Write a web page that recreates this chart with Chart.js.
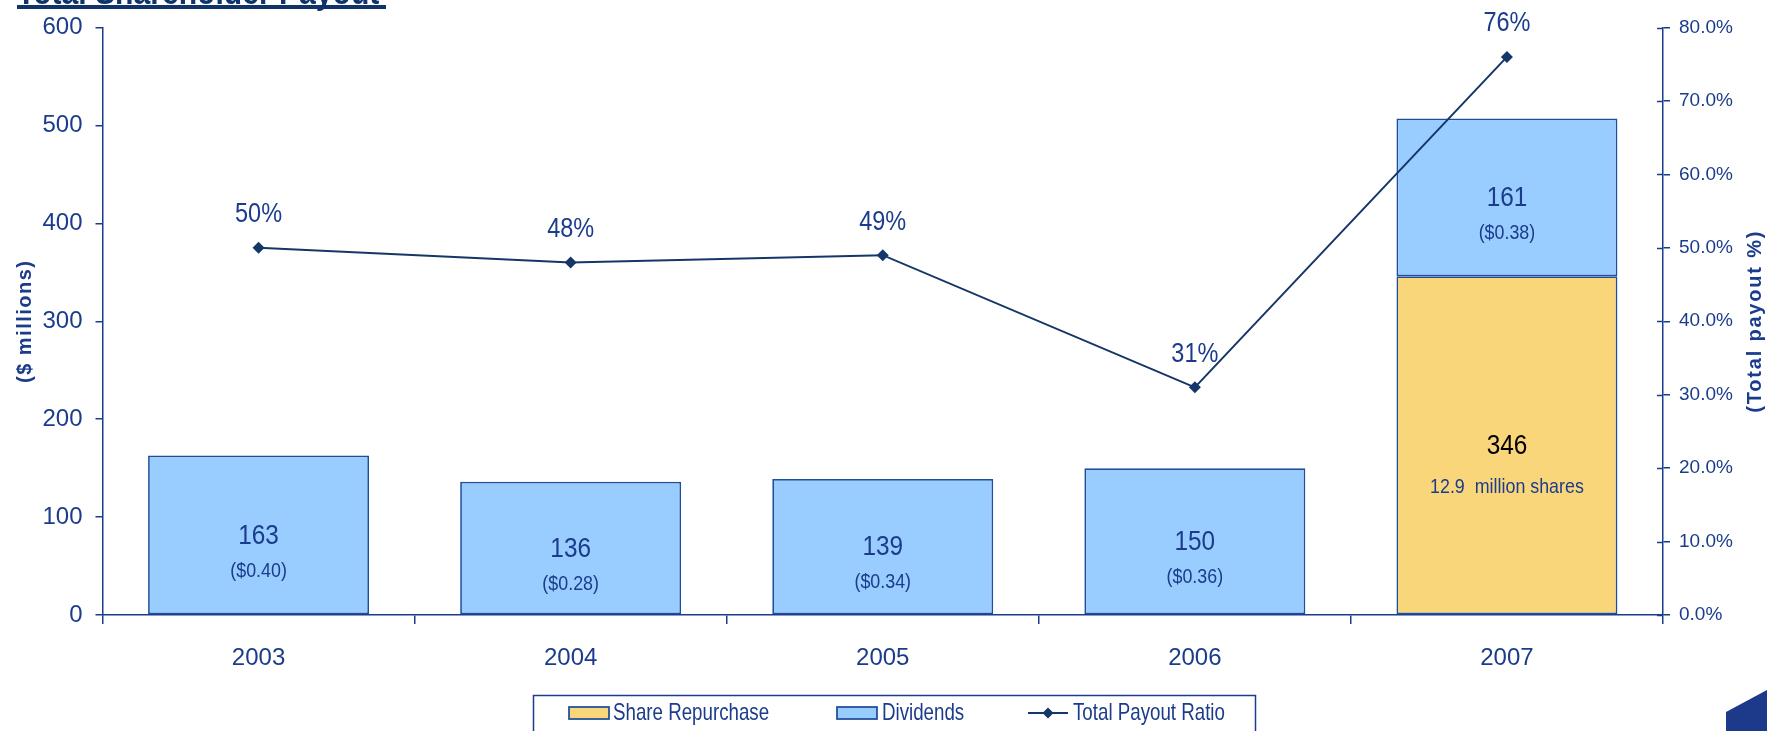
<!DOCTYPE html>
<html>
<head>
<meta charset="utf-8">
<title>Total Shareholder Payout</title>
<script src="https://cdn.jsdelivr.net/npm/chart.js@4.4.1/dist/chart.umd.min.js"></script>
<style>
  html, body { margin: 0; padding: 0; background: #ffffff; overflow: hidden; }
  #wrap { position: relative; width: 1767px; height: 731px; }
  canvas { display: block; }
</style>
</head>
<body>
<div id="wrap"><canvas id="c" width="1767" height="731"></canvas></div>
<script>
// ---- data ----
const years = ['2003', '2004', '2005', '2006', '2007'];
const repurchase = [null, null, null, null, 346];      // $ millions
const dividends = [163, 136, 139, 150, 161];           // $ millions
const payoutRatio = [50, 48, 49, 31, 76];              // % of earnings
const dividendPerShare = ['($0.40)', '($0.28)', '($0.34)', '($0.36)', '($0.38)'];
const repurchaseNote = [null, null, null, null, '12.9  million shares'];
const leftTicks = [0, 100, 200, 300, 400, 500, 600];
const rightTicks = [0, 10, 20, 30, 40, 50, 60, 70, 80];

// ---- styling ----
const NAVY = '#1b3c8c';
const LINE = '#143668';
const EDGE = '#1f4e9c';
const BLUE = '#99ccff';
const GOLD = '#fad67a';
const FONT = '"Liberation Sans", Arial, sans-serif';

// text drawn with a slight horizontal condensing
function squeezedText(ctx, text, x, y, size, color, opts = {}) {
  ctx.save();
  ctx.font = (opts.bold ? 'bold ' : '') + size + 'px ' + FONT;
  ctx.fillStyle = color;
  ctx.textAlign = opts.align || 'center';
  ctx.textBaseline = opts.baseline || 'middle';
  if (opts.spacing) ctx.letterSpacing = opts.spacing + 'px';
  ctx.translate(x, y);
  if (opts.rotate) ctx.rotate(opts.rotate);
  ctx.scale(opts.sx || 1, 1);
  ctx.fillText(text, 0, 0);
  ctx.restore();
}

const decorations = {
  id: 'decorations',
  afterDatasetsDraw(chart) {
    const ctx = chart.ctx;
    const repMeta = chart.getDatasetMeta(0);
    const divMeta = chart.getDatasetMeta(1);
    const lineMeta = chart.getDatasetMeta(2);

    // values inside the bars
    divMeta.data.forEach((bar, i) => {
      if (dividends[i] == null) return;
      const cy = (bar.y + bar.base) / 2;
      squeezedText(ctx, String(dividends[i]), bar.x, cy + 1, 28, NAVY, { sx: 0.87 });
      squeezedText(ctx, dividendPerShare[i], bar.x, cy + 36, 21, NAVY, { sx: 0.85 });
    });
    repMeta.data.forEach((bar, i) => {
      if (repurchase[i] == null) return;
      const cy = (bar.y + bar.base) / 2;
      squeezedText(ctx, String(repurchase[i]), bar.x, cy + 1, 28, '#000000', { sx: 0.87 });
      if (repurchaseNote[i]) squeezedText(ctx, repurchaseNote[i], bar.x, cy + 42, 21, NAVY, { sx: 0.85 });
    });

    // payout ratio labels above the points
    lineMeta.data.forEach((pt, i) => {
      squeezedText(ctx, payoutRatio[i] + '%', pt.x, pt.y - 33, 27, NAVY, { sx: 0.87 });
    });

    // inner half of the right axis ticks
    const y1 = chart.scales.y1;
    ctx.save();
    ctx.strokeStyle = NAVY;
    ctx.lineWidth = 1.5;
    y1.ticks.forEach(t => {
      const py = Math.round(y1.getPixelForValue(t.value)) + 0.5;
      ctx.beginPath();
      ctx.moveTo(y1.left - 6, py);
      ctx.lineTo(y1.left, py);
      ctx.stroke();
    });
    ctx.restore();
  },
  afterDraw(chart) {
    const ctx = chart.ctx;
    const area = chart.chartArea;

    // heading, cut by the top edge
    squeezedText(ctx, 'Total Shareholder Payout', 17, 3.5, 35, '#10336a', { bold: true, align: 'left', baseline: 'alphabetic', sx: 0.86 });
    ctx.fillStyle = '#10336a';
    ctx.fillRect(17, 5, 369, 4);

    // axis titles
    const midY = (area.top + area.bottom) / 2;
    squeezedText(ctx, '($ millions)', 25, midY, 20, NAVY, { bold: true, rotate: -Math.PI / 2, spacing: 1.5 });
    squeezedText(ctx, '(Total payout %)', 1755, midY, 20, NAVY, { bold: true, rotate: -Math.PI / 2, spacing: 1.8 });

    // legend
    ctx.save();
    ctx.strokeStyle = NAVY;
    ctx.lineWidth = 1.5;
    ctx.strokeRect(533.5, 695.5, 722, 50);
    ctx.lineWidth = 1.75;
    ctx.strokeStyle = EDGE;
    ctx.fillStyle = GOLD;
    ctx.fillRect(569, 707, 40, 12);
    ctx.strokeRect(569, 707, 40, 12);
    ctx.fillStyle = BLUE;
    ctx.fillRect(837, 707, 40, 12);
    ctx.strokeRect(837, 707, 40, 12);
    ctx.strokeStyle = LINE;
    ctx.lineWidth = 2;
    ctx.beginPath();
    ctx.moveTo(1028, 713);
    ctx.lineTo(1068, 713);
    ctx.stroke();
    ctx.fillStyle = LINE;
    ctx.beginPath();
    ctx.moveTo(1048, 707.5); ctx.lineTo(1053.5, 713); ctx.lineTo(1048, 718.5); ctx.lineTo(1042.5, 713);
    ctx.closePath();
    ctx.fill();
    ctx.restore();
    const legendNames = chart.data.datasets.map(d => d.label);
    squeezedText(ctx, legendNames[0], 613, 713, 24, NAVY, { align: 'left', sx: 0.78 });
    squeezedText(ctx, legendNames[1], 882, 713, 24, NAVY, { align: 'left', sx: 0.78 });
    squeezedText(ctx, legendNames[2], 1073, 713, 24, NAVY, { align: 'left', sx: 0.78 });

    // corner mark
    ctx.save();
    ctx.fillStyle = '#1d3a8a';
    ctx.beginPath();
    ctx.moveTo(1726, 712); ctx.lineTo(1767, 690); ctx.lineTo(1767, 731); ctx.lineTo(1726, 731);
    ctx.closePath();
    ctx.fill();
    ctx.restore();
  }
};

new Chart(document.getElementById('c'), {
  type: 'bar',
  data: {
    labels: years,
    datasets: [
      {
        label: 'Share Repurchase',
        data: repurchase,
        backgroundColor: GOLD,
        borderColor: EDGE,
        borderWidth: 1.75,
        borderSkipped: false,
        stack: 'payout',
        yAxisID: 'y',
        order: 2,
        barPercentage: 0.708,
        categoryPercentage: 1
      },
      {
        label: 'Dividends',
        data: dividends,
        backgroundColor: BLUE,
        borderColor: EDGE,
        borderWidth: 1.75,
        borderSkipped: false,
        stack: 'payout',
        yAxisID: 'y',
        order: 2,
        barPercentage: 0.708,
        categoryPercentage: 1
      },
      {
        type: 'line',
        label: 'Total Payout Ratio',
        data: payoutRatio,
        yAxisID: 'y1',
        borderColor: LINE,
        backgroundColor: LINE,
        borderWidth: 2,
        pointStyle: 'rectRot',
        pointRadius: 6,
        pointBorderWidth: 0,
        tension: 0,
        order: 0
      }
    ]
  },
  options: {
    responsive: false,
    animation: false,
    devicePixelRatio: 1,
    layout: { padding: { top: 27.5, left: 0, right: 0, bottom: 0 } },
    plugins: {
      legend: { display: false },
      tooltip: { enabled: false },
      title: { display: false }
    },
    scales: {
      x: {
        stacked: true,
        offset: true,
        grid: { display: true, offset: true, drawOnChartArea: false, drawTicks: true, tickLength: 9, color: NAVY, lineWidth: 1.5 },
        border: { display: true, color: NAVY, width: 1.5 },
        ticks: { color: NAVY, font: { family: FONT, size: 24 }, padding: 19.5, maxRotation: 0 },
        afterFit(scale) { scale.height = 116; }
      },
      y: {
        stacked: true,
        position: 'left',
        min: 0,
        max: 600,
        afterBuildTicks(scale) { scale.ticks = leftTicks.map(v => ({ value: v })); },
        grid: { display: true, drawOnChartArea: false, drawTicks: true, tickLength: 7, color: NAVY, lineWidth: 1.5 },
        border: { display: true, color: NAVY, width: 1.5 },
        ticks: { color: NAVY, font: { family: FONT, size: 24 }, padding: 13 },
        afterFit(scale) { scale.width = 102.5; }
      },
      y1: {
        position: 'right',
        min: 0,
        max: 80,
        afterBuildTicks(scale) { scale.ticks = rightTicks.map(v => ({ value: v })); },
        grid: { display: true, drawOnChartArea: false, drawTicks: true, tickLength: 7, color: NAVY, lineWidth: 1.5 },
        border: { display: true, color: NAVY, width: 1.5 },
        ticks: { color: NAVY, font: { family: FONT, size: 19 }, padding: 9, callback: v => v.toFixed(1) + '%' },
        afterFit(scale) { scale.width = 104; }
      }
    }
  },
  plugins: [decorations]
});
</script>
</body>
</html>
